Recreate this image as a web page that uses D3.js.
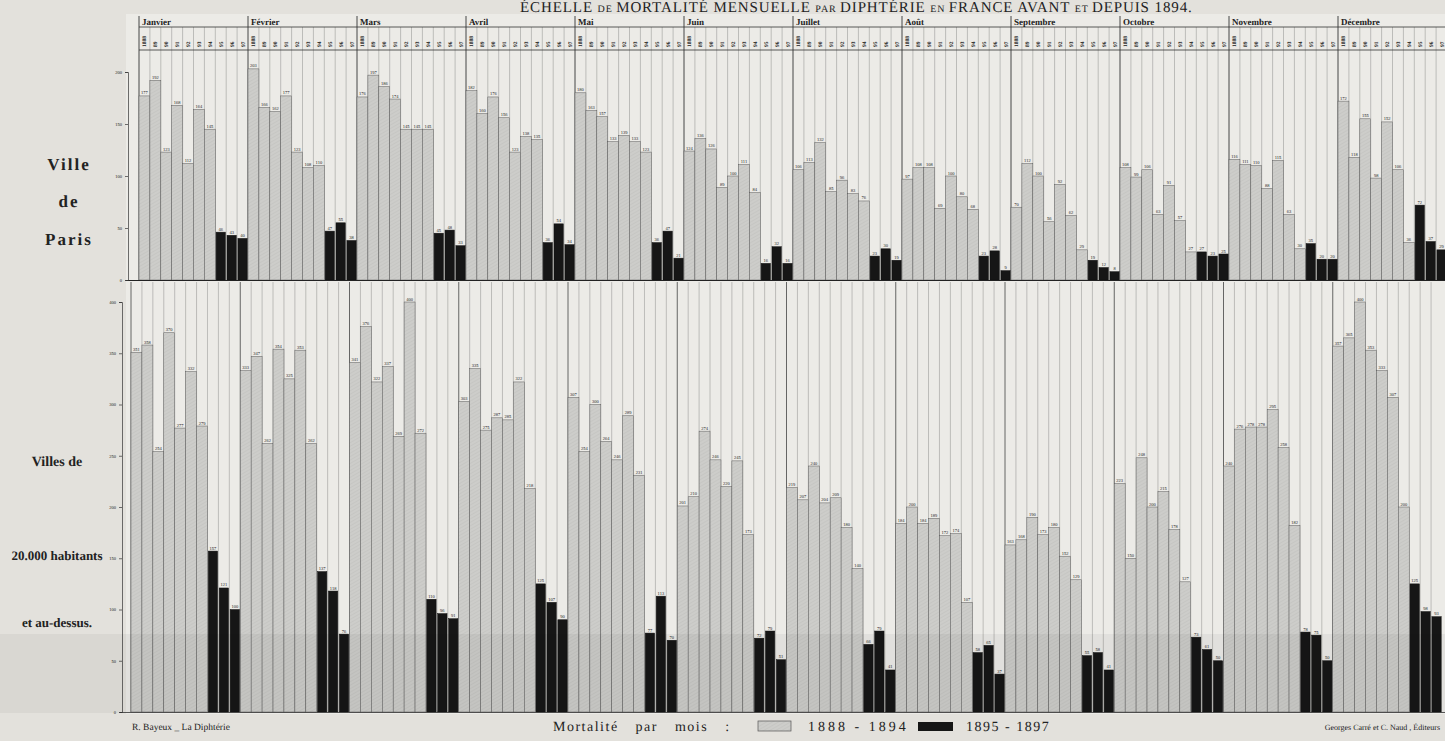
<!DOCTYPE html>
<html>
<head>
<meta charset="utf-8">
<title>Diphtérie</title>
<style>
  body { margin: 0; background: #e3e1dc; }
  svg { display: block; }
  text { font-family: "Liberation Serif", "DejaVu Serif", serif; fill: #222; }
</style>
</head>
<body>
<div id="chart"></div>
<script src="https://d3js.org/d3.v7.min.js"></script>
<script>
// months and years (columns of each month)
var mois = ["Janvier","Février","Mars","Avril","Mai","Juin","Juillet","Août","Septembre","Octobre","Novembre","Décembre"];
var annees = ["1888","89","90","91","92","93","94","95","96","97"];

// Ville de Paris : 1888-1894 (gris) et 1895-1897 (noir)
var parisAvant = [
  [177,192,123,168,112,164,145],
  [203,166,162,177,123,108,110],
  [176,197,186,174,145,145,145],
  [182,160,176,156,123,138,135],
  [180,163,157,133,139,133,123],
  [124,136,126,89,100,111,84],
  [106,113,132,85,96,83,76],
  [97,108,108,69,100,80,68],
  [70,112,100,56,92,62,29],
  [108,99,106,63,91,57,27],
  [116,111,110,88,115,63,30],
  [172,118,155,98,152,106,36]
];
var parisDepuis = [
  [46,43,40],[47,55,38],[45,48,33],[36,54,34],[36,47,21],[16,32,16],
  [23,30,19],[23,28,9],[19,12,8],[27,23,25],[35,20,20],[72,37,29]
];

// Villes de 20.000 habitants et au-dessus
var villesAvant = [
  [351,358,254,370,277,332,279],
  [333,347,262,354,325,353,262],
  [341,376,322,337,269,400,272],
  [303,335,275,287,285,322,218],
  [307,254,300,264,246,289,231],
  [201,210,274,246,220,245,173],
  [219,207,240,204,209,180,140],
  [184,200,184,189,172,174,107],
  [163,168,190,173,180,152,129],
  [223,150,248,200,215,178,127],
  [240,276,278,278,295,258,182],
  [357,365,400,353,333,307,200]
];
var villesDepuis = [
  [157,121,100],[137,118,76],[110,96,91],[125,107,90],[77,113,70],[72,79,51],
  [66,79,41],[58,65,37],[55,58,41],[73,61,50],[78,75,50],[125,98,93]
];

var parisTicks = [0,50,100,150,200];
var villesTicks = [0,50,100,150,200,250,300,350,400];

var W = 1445, H = 741;

function rows(avant, depuis) {
  var out = [];
  mois.forEach(function(m, i) {
    annees.forEach(function(a, j) {
      out.push({ key: i + "-" + j, m: i, j: j, v: j < 7 ? avant[i][j] : depuis[i][j - 7] });
    });
  });
  return out;
}
var parisData = rows(parisAvant, parisDepuis);
var villesData = rows(villesAvant, villesDepuis);
var keys = parisData.map(function(d) { return d.key; });

var svg = d3.select("#chart").append("svg")
  .attr("width", W).attr("height", H)
  .attr("text-rendering", "geometricPrecision");

var defs = svg.append("defs");
var pat = defs.append("pattern").attr("id", "hatch")
  .attr("patternUnits", "userSpaceOnUse").attr("width", 3).attr("height", 3)
  .attr("patternTransform", "rotate(60)");
pat.append("rect").attr("width", 3).attr("height", 3).attr("fill", "#cdcdca");
pat.append("line").attr("x1", 0).attr("y1", 0).attr("x2", 0).attr("y2", 3)
  .attr("stroke", "#bdbdba").attr("stroke-width", 0.8);

// chart paper
svg.append("rect").attr("x", 126).attr("y", 14).attr("width", W - 126).attr("height", 700)
  .attr("fill", "#ecebe7");

// scales
var xT = d3.scaleBand().domain(keys).range([139, 1447]);
var xB = d3.scaleBand().domain(keys).range([131, 1442]);
var yT = d3.scaleLinear().domain([0, 200]).range([280, 72]);
var yB = d3.scaleLinear().domain([0, 400]).range([712, 302]);

function first(k) { return k.split("-")[1] == "0"; }

// column lines
var gGrid = svg.append("g");
gGrid.selectAll(".ct").data(keys).enter().append("line")
  .attr("x1", function(k) { return xT(k); }).attr("x2", function(k) { return xT(k); })
  .attr("y1", function(k) { return first(k) ? 16 : 27; }).attr("y2", 280)
  .attr("stroke", function(k) { return first(k) ? "#333" : "#8d8d8b"; })
  .attr("stroke-width", function(k) { return first(k) ? 0.9 : 0.5; });
gGrid.selectAll(".cb").data(keys).enter().append("line")
  .attr("x1", function(k) { return xB(k); }).attr("x2", function(k) { return xB(k); })
  .attr("y1", 282).attr("y2", 712)
  .attr("stroke", function(k) { return first(k) ? "#444" : "#8d8d8b"; })
  .attr("stroke-width", function(k) { return first(k) ? 0.8 : 0.5; });

// header
svg.append("line").attr("x1", 139).attr("x2", W).attr("y1", 27).attr("y2", 27).attr("stroke", "#333").attr("stroke-width", 0.8);
svg.append("line").attr("x1", 139).attr("x2", W).attr("y1", 50).attr("y2", 50).attr("stroke", "#333").attr("stroke-width", 0.8);
svg.append("g").selectAll("text").data(mois).enter().append("text")
  .attr("x", function(m, i) { return xT(i + "-0") + 3; })
  .attr("y", 25)
  .attr("font-size", 9).attr("font-weight", "bold")
  .text(function(m) { return m; });
svg.append("g").selectAll("text").data(parisData).enter().append("text")
  .attr("transform", function(d) { return "translate(" + (xT(d.key) + xT.bandwidth() / 2 + 2) + ",47) rotate(-90)"; })
  .attr("font-size", 5.5).attr("font-weight", "bold")
  .text(function(d) { return annees[d.j]; });

function drawBars(data, x, y) {
  var g = svg.append("g");
  var bw = x.bandwidth();
  g.selectAll("rect").data(data).enter().append("rect")
    .attr("x", function(d) { return d.j < 7 ? x(d.key) : x(d.key) + 0.8; })
    .attr("width", function(d) { return d.j < 7 ? bw : bw - 1.6; })
    .attr("y", function(d) { return y(d.v); })
    .attr("height", function(d) { return y(0) - y(d.v); })
    .attr("fill", function(d) { return d.j < 7 ? "url(#hatch)" : "#161616"; })
    .attr("stroke", function(d) { return d.j < 7 ? "#5a5a5a" : "#111"; })
    .attr("stroke-width", 0.5);
  g.selectAll("text").data(data).enter().append("text")
    .attr("x", function(d) { return x(d.key) + bw / 2; })
    .attr("y", function(d) { return y(d.v) - 1.5; })
    .attr("text-anchor", "middle").attr("font-size", 4.5).attr("fill", "#333")
    .text(function(d) { return d.v; });
}
drawBars(parisData, xT, yT);
drawBars(villesData, xB, yB);

// baselines
svg.append("line").attr("x1", 126).attr("x2", W).attr("y1", 280.5).attr("y2", 280.5).attr("stroke", "#222").attr("stroke-width", 1);
svg.append("line").attr("x1", 120).attr("x2", W).attr("y1", 712.5).attr("y2", 712.5).attr("stroke", "#333").attr("stroke-width", 0.8);

// axes
var axT = svg.append("g").attr("transform", "translate(128,0)")
  .call(d3.axisLeft(yT).tickValues(parisTicks).tickSize(3).tickFormat(function(d) { return d; }));
var axB = svg.append("g").attr("transform", "translate(122,0)")
  .call(d3.axisLeft(yB).tickValues(villesTicks).tickSize(3).tickFormat(function(d) { return d; }));
[axT, axB].forEach(function(a) {
  a.selectAll("text").attr("font-size", 4.5).attr("font-family", "Liberation Serif, serif").attr("fill", "#333");
  a.selectAll("path,line").attr("stroke", "#333").attr("stroke-width", 0.7);
});

// paper fold shading at bottom
svg.append("rect").attr("x", 0).attr("y", 634).attr("width", W).attr("height", 79)
  .attr("fill", "#000").attr("opacity", 0.045);

// title
var title = svg.append("text").attr("x", 520).attr("y", 12)
  .attr("font-size", 15).attr("letter-spacing", 0.9).attr("fill", "#1e1e1e");
var parts = [["ÉCHELLE ", 15], ["DE ", 10], ["MORTALITÉ MENSUELLE ", 15], ["PAR ", 10],
             ["DIPHTÉRIE ", 15], ["EN ", 10], ["FRANCE AVANT ", 15], ["ET ", 10], ["DEPUIS 1894.", 15]];
parts.forEach(function(p) { title.append("tspan").attr("font-size", p[1]).text(p[0]); });

// left labels
var left = [["Ville", 170, 17], ["de", 207, 17], ["Paris", 245, 17],
            ["Villes de", 466, 14], ["20.000 habitants", 560, 13], ["et au-dessus.", 627, 13]];
svg.append("g").selectAll("text").data(left).enter().append("text")
  .attr("x", function(d) { return d[1] < 300 ? 69 : 57; })
  .attr("y", function(d) { return d[1]; })
  .attr("text-anchor", "middle").attr("font-size", function(d) { return d[2]; })
  .attr("font-weight", "bold")
  .attr("letter-spacing", function(d) { return d[1] < 300 ? 2 : 0; })
  .attr("fill", "#3a3a3a")
  .text(function(d) { return d[0]; });

// footer and legend
svg.append("text").attr("x", 132).attr("y", 730).attr("font-size", 9.5).text("R. Bayeux _ La Diphtérie");
svg.append("text").attr("x", 553).attr("y", 731).attr("font-size", 14).attr("letter-spacing", 1.5)
  .attr("word-spacing", 12).attr("fill", "#444").text("Mortalité par mois :");
svg.append("rect").attr("x", 758).attr("y", 721).attr("width", 33).attr("height", 10)
  .attr("fill", "url(#hatch)").attr("stroke", "#555").attr("stroke-width", 0.7);
svg.append("text").attr("x", 808).attr("y", 731).attr("font-size", 14).attr("letter-spacing", 3)
  .attr("fill", "#444").text("1888 - 1894");
svg.append("rect").attr("x", 918).attr("y", 722).attr("width", 35).attr("height", 9).attr("fill", "#161616");
svg.append("text").attr("x", 966).attr("y", 731).attr("font-size", 14).attr("letter-spacing", 1.5)
  .attr("fill", "#444").text("1895 - 1897");
svg.append("text").attr("x", 1440).attr("y", 730).attr("text-anchor", "end").attr("font-size", 8)
  .attr("fill", "#444").text("Georges Carré et C. Naud , Éditeurs");
</script>
</body>
</html>
